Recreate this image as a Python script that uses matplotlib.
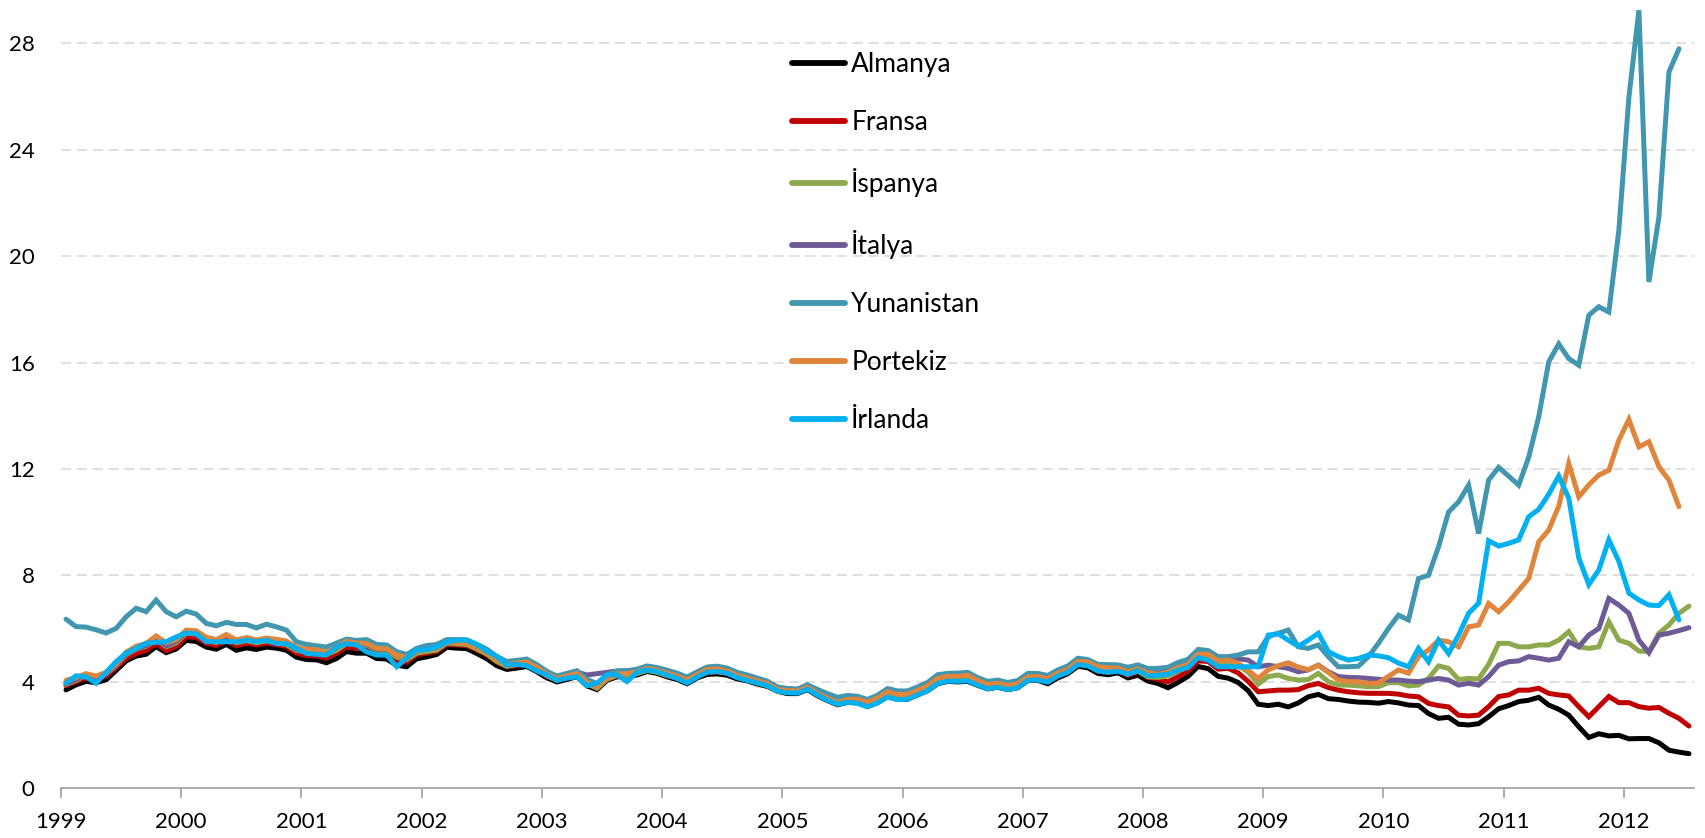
import numpy as np
import matplotlib.pyplot as plt

plt.rcParams['font.family'] = ['Lato', 'DejaVu Sans']

## Data: monthly 10-year bond yields (%), Jan 1999 onwards

almanya = [
    3.69, 3.88, 4.01, 3.96, 4.07, 4.42, 4.78, 4.96, 5.03, 5.32, 5.09, 5.23,
    5.55, 5.51, 5.30, 5.22, 5.40, 5.18, 5.27, 5.21, 5.30, 5.26, 5.18, 4.92,
    4.83, 4.82, 4.71, 4.87, 5.13, 5.07, 5.07, 4.87, 4.85, 4.62, 4.56, 4.86,
    4.93, 5.02, 5.29, 5.26, 5.24, 5.06, 4.86, 4.60, 4.46, 4.51, 4.57, 4.37,
    4.14, 3.99, 4.08, 4.19, 3.84, 3.70, 4.05, 4.18, 4.19, 4.25, 4.38, 4.31,
    4.18, 4.08, 3.92, 4.14, 4.27, 4.29, 4.24, 4.10, 4.03, 3.91, 3.82, 3.64,
    3.55, 3.55, 3.70, 3.47, 3.29, 3.13, 3.22, 3.20, 3.07, 3.21, 3.44, 3.34,
    3.34, 3.50, 3.66, 3.92, 4.01, 3.99, 4.01, 3.86, 3.73, 3.79, 3.70, 3.77,
    4.04, 4.05, 3.92, 4.14, 4.30, 4.58, 4.52, 4.31, 4.26, 4.33, 4.14, 4.24,
    4.02, 3.93, 3.77, 3.97, 4.20, 4.57, 4.49, 4.20, 4.13, 3.97, 3.66, 3.15,
    3.10, 3.15, 3.05, 3.20, 3.43, 3.52, 3.36, 3.33, 3.27, 3.23, 3.22, 3.19,
    3.25, 3.20, 3.12, 3.10, 2.80, 2.62, 2.66, 2.40, 2.37, 2.42, 2.68, 2.98,
    3.10, 3.25, 3.30, 3.41, 3.12, 2.96, 2.74, 2.30, 1.90, 2.04, 1.96, 1.98,
    1.85, 1.86, 1.86, 1.70, 1.42, 1.35, 1.29,
]

fransa = [
    3.85, 4.00, 4.14, 4.05, 4.21, 4.53, 4.87, 5.06, 5.17, 5.44, 5.16, 5.32,
    5.68, 5.66, 5.44, 5.36, 5.54, 5.35, 5.45, 5.38, 5.45, 5.39, 5.32, 5.07,
    4.98, 4.97, 4.88, 5.07, 5.31, 5.25, 5.25, 5.06, 5.03, 4.79, 4.73, 5.01,
    5.07, 5.14, 5.40, 5.38, 5.36, 5.20, 5.01, 4.74, 4.56, 4.61, 4.67, 4.46,
    4.21, 4.05, 4.15, 4.26, 3.92, 3.76, 4.09, 4.22, 4.23, 4.31, 4.44, 4.36,
    4.23, 4.14, 3.99, 4.21, 4.36, 4.37, 4.32, 4.17, 4.08, 3.97, 3.87, 3.68,
    3.61, 3.61, 3.76, 3.55, 3.37, 3.21, 3.28, 3.27, 3.12, 3.28, 3.49, 3.41,
    3.40, 3.55, 3.71, 3.99, 4.09, 4.08, 4.12, 3.95, 3.82, 3.87, 3.78, 3.85,
    4.09, 4.10, 4.03, 4.22, 4.38, 4.66, 4.62, 4.39, 4.35, 4.41, 4.24, 4.38,
    4.16, 4.09, 3.99, 4.19, 4.40, 4.78, 4.76, 4.47, 4.50, 4.33, 4.01, 3.62,
    3.65, 3.68, 3.68, 3.70, 3.85, 3.93, 3.78, 3.68, 3.62, 3.58, 3.56, 3.56,
    3.56, 3.53, 3.46, 3.43, 3.18, 3.10, 3.05, 2.74, 2.71, 2.74, 3.06, 3.44,
    3.50, 3.68, 3.68, 3.75, 3.56, 3.50, 3.46, 3.06, 2.68, 3.06, 3.44, 3.21,
    3.21, 3.06, 3.00, 3.03, 2.81, 2.62, 2.33,
]

ispanya = [
    3.90, 4.05, 4.23, 4.14, 4.29, 4.60, 5.01, 5.22, 5.33, 5.59, 5.31, 5.46,
    5.82, 5.79, 5.56, 5.47, 5.66, 5.46, 5.54, 5.46, 5.53, 5.46, 5.39, 5.17,
    5.12, 5.11, 5.02, 5.18, 5.43, 5.39, 5.37, 5.18, 5.16, 4.92, 4.83, 5.07,
    5.13, 5.19, 5.45, 5.42, 5.40, 5.23, 5.04, 4.76, 4.58, 4.64, 4.68, 4.47,
    4.22, 4.05, 4.16, 4.27, 3.92, 3.75, 4.09, 4.23, 4.23, 4.30, 4.42, 4.35,
    4.23, 4.14, 3.99, 4.19, 4.36, 4.38, 4.32, 4.16, 4.06, 3.95, 3.85, 3.64,
    3.61, 3.59, 3.73, 3.50, 3.32, 3.16, 3.23, 3.21, 3.07, 3.22, 3.44, 3.35,
    3.37, 3.54, 3.71, 3.99, 4.08, 4.08, 4.11, 3.94, 3.80, 3.85, 3.76, 3.83,
    4.10, 4.12, 4.03, 4.24, 4.39, 4.66, 4.64, 4.43, 4.38, 4.42, 4.28, 4.40,
    4.18, 4.16, 4.21, 4.39, 4.58, 4.94, 4.94, 4.69, 4.73, 4.60, 4.36, 3.91,
    4.19, 4.25, 4.12, 4.06, 4.08, 4.31, 4.00, 3.87, 3.87, 3.84, 3.81, 3.81,
    3.96, 3.96, 3.84, 3.87, 4.12, 4.59, 4.50, 4.08, 4.12, 4.10, 4.65, 5.44,
    5.44, 5.31, 5.31, 5.38, 5.38, 5.56, 5.88, 5.31, 5.25, 5.31, 6.25, 5.56,
    5.44, 5.15, 5.13, 5.82, 6.13, 6.57, 6.84,
]

italya = [
    3.93, 4.09, 4.24, 4.16, 4.31, 4.63, 5.04, 5.24, 5.36, 5.62, 5.34, 5.52,
    5.86, 5.82, 5.59, 5.52, 5.71, 5.50, 5.60, 5.51, 5.59, 5.53, 5.46, 5.21,
    5.15, 5.15, 5.07, 5.28, 5.50, 5.42, 5.41, 5.22, 5.22, 5.00, 4.92, 5.16,
    5.22, 5.28, 5.51, 5.48, 5.47, 5.31, 5.15, 4.89, 4.70, 4.76, 4.82, 4.61,
    4.36, 4.18, 4.26, 4.36, 4.25, 4.30, 4.35, 4.40, 4.40, 4.44, 4.56, 4.50,
    4.39, 4.27, 4.12, 4.33, 4.53, 4.56, 4.45, 4.29, 4.19, 4.08, 3.99, 3.77,
    3.74, 3.72, 3.86, 3.65, 3.51, 3.37, 3.45, 3.41, 3.29, 3.42, 3.66, 3.57,
    3.57, 3.73, 3.87, 4.17, 4.26, 4.28, 4.31, 4.10, 3.96, 4.00, 3.91, 3.98,
    4.24, 4.25, 4.18, 4.39, 4.53, 4.83, 4.79, 4.60, 4.59, 4.58, 4.48, 4.57,
    4.41, 4.39, 4.51, 4.64, 4.72, 5.11, 5.09, 4.82, 4.84, 4.86, 4.81, 4.56,
    4.62, 4.56, 4.50, 4.37, 4.44, 4.62, 4.37, 4.19, 4.16, 4.15, 4.12, 4.09,
    4.06, 4.06, 4.02, 4.00, 4.06, 4.12, 4.06, 3.87, 3.94, 3.87, 4.19, 4.62,
    4.75, 4.78, 4.94, 4.88, 4.81, 4.88, 5.50, 5.31, 5.75, 6.00, 7.13, 6.88,
    6.57, 5.56, 5.09, 5.75, 5.82, 5.92, 6.03,
]

yunanistan = [
    6.35, 6.07, 6.05, 5.95, 5.83, 6.00, 6.44, 6.76, 6.63, 7.07, 6.63, 6.44,
    6.65, 6.54, 6.19, 6.10, 6.23, 6.15, 6.15, 6.02, 6.16, 6.06, 5.94, 5.50,
    5.40, 5.35, 5.30, 5.45, 5.60, 5.55, 5.58, 5.40, 5.38, 5.13, 5.02, 5.25,
    5.36, 5.40, 5.58, 5.58, 5.57, 5.41, 5.22, 4.95, 4.76, 4.80, 4.85, 4.64,
    4.39, 4.21, 4.31, 4.41, 4.09, 3.92, 4.26, 4.40, 4.41, 4.47, 4.59, 4.53,
    4.43, 4.32, 4.17, 4.37, 4.55, 4.58, 4.51, 4.35, 4.25, 4.13, 4.02, 3.80,
    3.74, 3.70, 3.88, 3.71, 3.55, 3.41, 3.48, 3.45, 3.33, 3.49, 3.74, 3.65,
    3.65, 3.80, 3.97, 4.26, 4.31, 4.32, 4.35, 4.15, 4.01, 4.06, 3.97, 4.04,
    4.31, 4.31, 4.23, 4.44, 4.59, 4.88, 4.83, 4.65, 4.64, 4.63, 4.54, 4.63,
    4.49, 4.50, 4.54, 4.72, 4.84, 5.21, 5.17, 4.94, 4.94, 5.00, 5.12, 5.12,
    5.69, 5.82, 5.94, 5.31, 5.25, 5.38, 4.94, 4.56, 4.56, 4.58, 4.94, 5.44,
    6.00, 6.50, 6.32, 7.88, 8.00, 9.07, 10.38, 10.76, 11.39, 9.57, 11.58, 12.06,
    11.73, 11.39, 12.44, 13.96, 16.03, 16.70, 16.15, 15.90, 17.78, 18.10, 17.90, 20.98,
    25.97, 29.25, 19.03, 21.48, 26.93, 27.80,
]

portekiz = [
    4.05, 4.15, 4.30, 4.21, 4.35, 4.67, 5.11, 5.33, 5.44, 5.72, 5.46, 5.58,
    5.94, 5.91, 5.67, 5.58, 5.77, 5.57, 5.66, 5.57, 5.64, 5.59, 5.53, 5.29,
    5.22, 5.20, 5.11, 5.30, 5.52, 5.45, 5.44, 5.25, 5.24, 5.00, 4.90, 5.14,
    5.20, 5.26, 5.50, 5.47, 5.45, 5.28, 5.10, 4.83, 4.64, 4.70, 4.74, 4.54,
    4.29, 4.12, 4.21, 4.31, 3.98, 3.80, 4.14, 4.29, 4.30, 4.37, 4.50, 4.43,
    4.32, 4.21, 4.06, 4.27, 4.46, 4.48, 4.40, 4.24, 4.14, 4.03, 3.93, 3.71,
    3.66, 3.64, 3.79, 3.56, 3.38, 3.22, 3.33, 3.34, 3.23, 3.38, 3.62, 3.52,
    3.52, 3.67, 3.84, 4.12, 4.20, 4.20, 4.24, 4.04, 3.89, 3.94, 3.85, 3.92,
    4.18, 4.19, 4.11, 4.32, 4.46, 4.76, 4.74, 4.56, 4.52, 4.51, 4.37, 4.48,
    4.33, 4.28, 4.35, 4.53, 4.65, 5.03, 5.03, 4.78, 4.81, 4.69, 4.43, 4.12,
    4.44, 4.60, 4.71, 4.55, 4.45, 4.62, 4.35, 4.06, 4.00, 4.00, 3.93, 3.95,
    4.20, 4.44, 4.32, 4.94, 5.19, 5.56, 5.50, 5.31, 6.06, 6.13, 6.94, 6.63,
    7.00, 7.44, 7.88, 9.26, 9.70, 10.60, 12.20, 10.95, 11.40, 11.77, 11.95, 13.08,
    13.86, 12.83, 13.02, 12.08, 11.58, 10.58,
]

irlanda = [
    3.94, 4.22, 4.18, 3.94, 4.35, 4.75, 5.07, 5.25, 5.44, 5.48, 5.50, 5.68,
    5.83, 5.80, 5.50, 5.50, 5.50, 5.50, 5.56, 5.50, 5.56, 5.43, 5.43, 5.25,
    5.06, 5.03, 5.00, 5.30, 5.43, 5.38, 5.12, 5.00, 5.00, 4.56, 4.88, 5.19,
    5.20, 5.30, 5.50, 5.56, 5.56, 5.40, 5.15, 4.95, 4.63, 4.65, 4.60, 4.40,
    4.25, 4.05, 4.13, 4.18, 3.85, 3.94, 4.26, 4.26, 4.00, 4.35, 4.44, 4.38,
    4.25, 4.12, 3.95, 4.17, 4.36, 4.38, 4.32, 4.15, 4.05, 3.95, 3.85, 3.65,
    3.58, 3.57, 3.72, 3.50, 3.30, 3.15, 3.22, 3.19, 3.05, 3.20, 3.42, 3.32,
    3.34, 3.50, 3.66, 3.93, 4.02, 4.01, 4.03, 3.87, 3.73, 3.79, 3.70, 3.77,
    4.05, 4.06, 3.98, 4.21, 4.35, 4.64, 4.59, 4.40, 4.35, 4.39, 4.28, 4.41,
    4.22, 4.24, 4.28, 4.43, 4.53, 4.90, 4.81, 4.56, 4.56, 4.56, 4.56, 4.56,
    5.75, 5.80, 5.56, 5.33, 5.56, 5.82, 5.13, 4.94, 4.81, 4.87, 5.00, 4.97,
    4.90, 4.70, 4.56, 5.25, 4.75, 5.56, 5.06, 5.75, 6.57, 6.95, 9.30, 9.10,
    9.20, 9.33, 10.20, 10.48, 11.05, 11.73, 10.90, 8.65, 7.65, 8.20, 9.33, 8.52,
    7.33, 7.07, 6.88, 6.86, 7.27, 6.32,
]

labels = ["Almanya", "Fransa", "İspanya", "İtalya", "Yunanistan", "Portekiz", "İrlanda"]
series = [almanya, fransa, ispanya, italya, yunanistan, portekiz, irlanda]
colors = ["#000000", "#C00000", "#8DA94E", "#6E5A96", "#4197B0", "#DF853C", "#00B0F0"]

years = list(range(1999, 2013))
yticks = [0, 4, 8, 12, 16, 20, 24, 28]

## Figure

W, H = 1706, 838
fig = plt.figure(figsize=(W / 100, H / 100), dpi=100)
ax = fig.add_axes([61 / W, 50 / H, (1694 - 61) / W, 788 / H])

for vals, lab, col in zip(series, labels, colors):
    t = 1999 + (np.arange(len(vals)) + 0.5) / 12
    ax.plot(t, vals, color=col, lw=3.6, label=lab, solid_joinstyle='miter',
            solid_capstyle='round')

ax.set_xlim(1999, 2012 + 7 / 12)
ax.set_ylim(0, 788 / 26.59)

ax.set_yticks(yticks)
ax.set_yticklabels([str(v) for v in yticks], fontsize=16)
ax.set_xticks(years)
ax.set_xticklabels([str(y) for y in years], fontsize=16)

for v in yticks[1:]:
    ax.axhline(v, color="#D9D9D9", lw=1.2, dashes=(6, 3.5), zorder=0)

for s in ["top", "right", "left"]:
    ax.spines[s].set_visible(False)
ax.spines["bottom"].set_color("#A6A6A6")
ax.spines["bottom"].set_linewidth(1.3)

ax.tick_params(axis="y", length=0, pad=19)
ax.tick_params(axis="x", direction="out", length=7, width=1.3, color="#A6A6A6", pad=10)

leg = ax.legend(loc="upper left", bbox_to_anchor=(792 / W, 1 - 52 / H),
                bbox_transform=fig.transFigure, frameon=False, fontsize=19,
                handlelength=2.0, handletextpad=0.25, labelspacing=1.25,
                borderpad=0, borderaxespad=0)
for h in leg.get_lines():
    h.set_linewidth(4.2)
    h.set_solid_capstyle('round')

fig.savefig("out.png", dpi=100)
